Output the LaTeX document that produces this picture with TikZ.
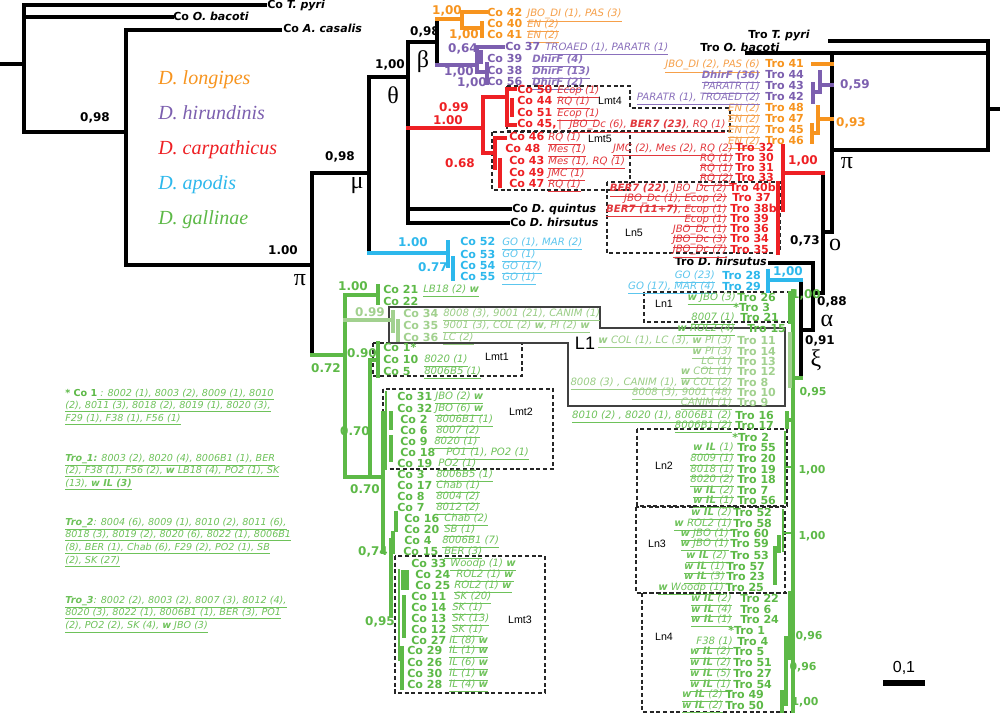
\documentclass[tikz,border=0pt]{standalone}
\usepackage{fontspec}
\usepackage{xcolor}
\newfontfamily\vfont{DejaVu Sans}
\newfontfamily\tfont{Liberation Serif}
\newfontfamily\afont{Liberation Sans}
% clade colours
\definecolor{lngcol}{HTML}{F7941E}
\definecolor{hircol}{HTML}{7C5FAF}
\definecolor{carcol}{HTML}{EE2024}
\definecolor{apocol}{HTML}{2DB8EC}
\definecolor{galcol}{HTML}{5DB947}
\definecolor{galtcol}{HTML}{A2D18F}
% colours of the haplotype notes
\definecolor{lnginf}{HTML}{F6A04A}
\definecolor{hirinf}{HTML}{8A70BC}
\definecolor{carinf}{HTML}{E2383D}
\definecolor{apoinf}{HTML}{5CC6EE}
\definecolor{galinf}{HTML}{6EC25A}
\definecolor{galtinf}{HTML}{9ACD86}
\newcommand{\undl}[1]{\underline{#1}}

\begin{document}
\begin{tikzpicture}[x=0.75pt,y=-0.75pt]
                % define styles
\tikzset{blk/.style={draw=black, line width=3pt, line cap=rect},
         lng/.style={blk, draw=lngcol},
         hir/.style={blk, draw=hircol},
         car/.style={blk, draw=carcol},
         apo/.style={blk, draw=apocol},
         gal/.style={blk, draw=galcol},
         galt/.style={blk, draw=galtcol},
         cotip/.style={anchor=base west, yshift=-3pt, inner sep=0pt,
                       font=\vfont\bfseries\fontsize{8.3}{9}\selectfont},
         coinf/.style={anchor=base west, yshift=-2.8pt, inner sep=0pt,
                       font=\vfont\itshape\fontsize{7.6}{9}\selectfont},
         trotip/.style={cotip},
         troinf/.style={coinf, anchor=base east},
         supp/.style={inner sep=0pt, font=\vfont\bfseries\fontsize{9}{9}\selectfont},
         supps/.style={inner sep=0pt, font=\vfont\bfseries\fontsize{8.2}{9}\selectfont},
         grk/.style={inner sep=0pt, font=\tfont\fontsize{18}{18}\selectfont},
         spec/.style={anchor=base west, yshift=-5pt, inner sep=0pt,
                      font=\tfont\itshape\fontsize{15}{15}\selectfont},
         grp/.style={draw=black!85, line width=0.9pt, dash pattern=on 3pt off 2pt},
         lgrp/.style={draw=black!75, line width=1.1pt},
         boxlab/.style={inner sep=0pt, font=\afont\fontsize{8}{9}\selectfont},
         leginf/.style={anchor=base west, yshift=-2.6pt, inner sep=0pt, text=galinf,
                        font=\vfont\itshape\fontsize{7.2}{9}\selectfont}
}

\fill[white] (0,0) rectangle (1000,713);
\useasboundingbox (0,0) rectangle (1000,713);

% group boxes
\draw[grp] (373,343) rectangle (522,376);
\draw[grp] (383,389) rectangle (553,469);
\draw[grp] (395,556) rectangle (545,693);
\draw[grp] (507,86) -- (630,86) -- (630,108) -- (730,108) -- (730,131) -- (507,131) -- cycle;
\draw[grp] (492,132) rectangle (630,190);
\draw[grp] (607,182) rectangle (780,253);
\draw[grp] (644,292) rectangle (794,322);
\draw[grp] (637,429) rectangle (787,506);
\draw[grp] (636,507) rectangle (785,593);
\draw[grp] (642,593) rectangle (792,712);
\draw[lgrp] (389,307) -- (600,307) -- (600,328) -- (785,328) -- (785,406)
            -- (568,406) -- (568,343) -- (389,343) -- cycle;

% box labels
\node[boxlab] (lmt1) at (497,357) {Lmt1};
\node[boxlab] (lmt2) at (521,412) {Lmt2};
\node[boxlab] (lmt3) at (520,620) {Lmt3};
\node[boxlab] (lmt4) at (610,101) {Lmt4};
\node[boxlab] (lmt5) at (600,139) {Lmt5};
\node[boxlab] (ln1) at (664,304) {Ln1};
\node[boxlab] (ln2) at (664,466) {Ln2};
\node[boxlab] (ln3) at (657,544) {Ln3};
\node[boxlab] (ln4) at (664,637) {Ln4};
\node[boxlab] (ln5) at (634,233) {Ln5};
\node[boxlab, font=\afont\fontsize{13.5}{14}\selectfont] (l1) at (585,343) {L1};

% ---------------- Co tree (left) ----------------
\draw[blk] (0,64) -- (24,64);
\draw[blk] (265,5) -| (24,132) -- (126,132);
\draw[blk] (24,17) -- (172,17);
\draw[blk] (280,30) -| (126,265) -- (312,265);
\draw[blk] (369,173) -| (312,355);
\draw[blk] (408,77) -| (369,253);
\draw[blk] (437,42) -| (408,223) -- (508,223);
\draw[blk] (408,209) -- (510,209);
\draw[blk] (437,19) -- (437,65);

\draw[lng] (437,19) -- (462,19);
\draw[lng] (486,12) -| (462,28) -- (482,28);
\draw[lng] (482,23) -- (482,36);

\draw[hir] (437,65) -- (477,65);
\draw[hir] (503,47) -| (477,72) -- (487,72);
\draw[hir] (487,64) -- (487,83);
\draw[hir] (481,52) -- (481,62);

\draw[car] (408,128) -- (483,128);
\draw[car] (507,97) -| (483,153) -- (495,153);
\draw[car] (515,89) -| (507,125) -- (515,125);
\draw[car] (512,100) -- (512,115);
\draw[car] (505,138) -| (495,168);
\draw[car] (500,160) -- (500,186);

\draw[apo] (369,253) -- (448,253);
\draw[apo] (448,242) -- (448,266);
\draw[apo] (453,258) -- (453,279);

\draw[gal] (312,355) -- (345,355);
\draw[gal] (378,295) -| (345,477) -- (383,477);
\draw[gal] (378,286) -- (378,303);
\draw[galt] (345,320) -- (393,320);
\draw[galt] (393,312) -- (393,331);
\draw[galt] (398,321) -- (398,340);
\draw[gal] (370,477) -- (370,360) -- (378,360);
\draw[gal] (378,343) -- (378,376);
\draw[gal] (383,413) -- (383,552);
\draw[gal, line width=2pt] (386,392) -- (386,469);
\draw[gal] (391,413) -- (391,428);
\draw[gal] (391,437) -- (391,460);
\draw[gal] (396,513) -- (396,530);
\draw[gal] (393,533) -- (393,552);
\draw[gal] (391,540) -- (391,615);
\draw[gal, line width=2pt] (399,570) -- (399,660);
\draw[gal] (403,572) -- (403,588);
\draw[gal] (407,572) -- (407,588);
\draw[gal] (404,597) -- (404,636);
\draw[gal] (402,648) -- (402,688);

% ---------------- Tro tree (right) ----------------
\draw[blk] (1000,109) -- (988,109);
\draw[blk] (830,41) -| (988,150) -- (832,150);
\draw[blk] (747,53) -- (988,53);
\draw[blk] (832,53) -- (832,232) -- (823,232);
\draw[blk] (823,173) -- (823,293) -- (813,293);
\draw[blk] (770,263) -| (813,330) -- (801,330);
\draw[blk] (801,280) -- (801,378);

\draw[lng] (813,64) -- (832,64);
\draw[hir] (832,85) -- (820,85);
\draw[hir] (820,72) -- (820,92) -- (813,92);
\draw[hir] (813,84) -- (813,102);
\draw[lng] (832,119) -- (818,119);
\draw[lng] (818,107) -- (818,133) -- (812,133);
\draw[lng] (812,125) -- (812,142);

\draw[car] (823,173) -- (783,173);
\draw[car] (783,146) -- (783,210);
\draw[car] (778,183) -- (778,253);

\draw[apo] (801,280) -- (768,280);
\draw[apo] (768,271) -- (768,291);

\draw[gal] (801,378) -- (793,378);
\draw[gal] (793,291) -- (793,712);
\draw[gal] (790,293) -- (790,322);
\draw[galt] (790,334) -- (790,386);
\draw[gal] (793,420) -- (787,420);
\draw[gal] (787,413) -- (787,427);
\draw[gal, line width=1.5pt] (793,467) -- (785,467);
\draw[gal, line width=1.5pt] (785,432) -- (785,503);
\draw[gal, line width=1.5pt] (793,533) -- (783,533);
\draw[gal, line width=1.5pt] (783,510) -- (783,551);
\draw[gal] (779,537) -- (779,551);
\draw[gal] (775,548) -- (775,583);
\draw[gal] (790,593) -- (790,658);
\draw[gal] (786,638) -- (786,704);
\draw[gal] (782,692) -- (782,712);

% scale bar
\node[inner sep=0pt, font=\afont\fontsize{12}{12}\selectfont] (scl) at (904,668) {0,1};
\draw[line width=4pt] (883,683) -- (925,683);

% species legend
\foreach \y/\c/\t [count=\i] in {78/lngcol/longipes, 113/hircol/hirundinis,
                                  148/carcol/carpathicus, 183/apocol/apodis,
                                  218/galcol/gallinae}
    \node[spec, text=\c] (sp\i) at (158,\y) {D. \t};

% greek node letters
\foreach \x/\y/\g [count=\i] in {300/280/π, 357/186/μ, 393/95/θ, 423/62/β,
                                 847/163/π, 835/245/ο, 827/321/α, 816/360/ξ}
    \node[grk] (gr\i) at (\x,\y) {\g};

% support values
\foreach \x/\y/\t [count=\i] in {95/118/{0,98}, 283/250/{1.00}, 340/157/{0,98},
                                 390/65/{1,00}, 425/32/{0,98}, 805/241/{0,73},
                                 832/302/{0,88}, 820/341/{0,91}}
    \node[supp] (sk\i) at (\x,\y) {\t};
\foreach \x/\y/\t [count=\i] in {447/11/{1,00}, 464/35/{1,00}, 851/123/{0,93}}
    \node[supp, text=lngcol] (so\i) at (\x,\y) {\t};
\foreach \x/\y/\t [count=\i] in {463/49/{0,64}, 459/72/{1,00}, 472/83/{1,00}, 855/85/{0,59}}
    \node[supp, text=hircol] (sh\i) at (\x,\y) {\t};
\foreach \x/\y/\t [count=\i] in {454/107/{0.99}, 448/120/{1.00}, 460/163/{0.68}, 803/161/{1,00}}
    \node[supp, text=carcol] (sc\i) at (\x,\y) {\t};
\foreach \x/\y/\t [count=\i] in {413/242/{1.00}, 433/267/{0.77}, 788/272/{1,00}}
    \node[supp, text=apocol] (sa\i) at (\x,\y) {\t};
\foreach \x/\y/\t [count=\i] in {353/286/{1.00}, 362/353/{0.90}, 326/368/{0.72},
                                 355/431/{0.70}, 365/489/{0.70}, 373/552/{0,74},
                                 380/622/{0,95}, 806/295/{1,00}}
    \node[supp, text=galcol] (sg\i) at (\x,\y) {\t};
\foreach \x/\y/\t [count=\i] in {813/392/{0,95}, 812/470/{1,00}, 812/536/{1,00},
                                 809/636/{0,96}, 803/667/{0,96}, 805/702/{1,00}}
    \node[supps, text=galcol] (sgr\i) at (\x,\y) {\t};
\node[supp, text=galtcol] (sgl) at (370,312) {0.99};

% ---------------- Co tips ----------------
\node[cotip] (copyri) at (267,5) {Co \textit{T. pyri}};
\node[cotip] (cobacoti) at (173,17) {Co \textit{O. bacoti}};
\node[cotip] (cocasalis) at (283,29) {Co \textit{A. casalis}};
\node[cotip] (coquintus) at (512,209) {Co \textit{D. quintus}};
\node[cotip] (cohirsutus) at (510,223) {Co \textit{D. hirsutus}};

\foreach \n/\y/\lab in {42/13/{JBO\_DI (1), PAS (3)}, 40/24/{EN (2)}, 41/35/{EN (2)}}{
    \node[cotip, text=lngcol] (co\n) at (487,\y) {Co \n};
    \node[coinf, text=lnginf] (coinf\n) at (527,\y) {\undl{\lab}};
}

\node[cotip, text=hircol] (co37) at (505,47) {Co 37};
\node[coinf, text=hirinf] (coinf37) at (545,47) {\undl{TROAED (1), PARATR (1)}};
\foreach \n/\y/\lab in {39/59/4, 38/71/13, 56/82/2}{
    \node[cotip, text=hircol] (co\n) at (487,\y) {Co \n};
    \node[coinf, text=hirinf] (coinf\n) at (532,\y) {\undl{\textbf{DhirF (\lab)}}};
}

\foreach \n/\x/\y/\lx/\lab in {50/517/90/557/{Ecop (1)}, 44/517/101/557/{RQ (1)},
                               51/517/113/557/{Ecop (1)}, 46/509/137/548/{RQ (1)},
                               48/505/149/548/{Mes (1)}, 43/509/161/548/{Mes (1), RQ (1)},
                               49/509/173/548/{JMC (1)}, 47/509/184/548/{RQ (1)}}{
    \node[cotip, text=carcol] (co\n) at (\x,\y) {Co \n};
    \node[coinf, text=carinf] (coinf\n) at (\lx,\y) {\undl{\lab}};
}
\node[cotip, text=carcol] (co45) at (517,124) {Co 45,};
\node[coinf, text=carinf] (coinf45) at (558,124)
    {|\hspace{6pt}\undl{JBO\_Dc (6), \textbf{BER7 (23)}, RQ (1)}};

\foreach \n/\y/\lab in {52/242/{GO (1), MAR (2)}, 53/254/{GO (1)},
                        54/266/{GO (17)}, 55/277/{GO (1)}}{
    \node[cotip, text=apocol] (co\n) at (460,\y) {Co \n};
    \node[coinf, text=apoinf] (coinf\n) at (502,\y) {\undl{\lab}};
}

\node[cotip, text=galcol] (co22) at (383,301) {Co 22};
\node[cotip, text=galcol] (co1) at (383,347) {Co 1*};
\foreach \n/\x/\y/\lx/\lab in {21/383/289/423/{LB18 (2) \textbf{w}},
        10/383/359/424/{8020 (1)}, 5/383/371/424/{8006B5 (1)},
        31/397/396/435/{JBO (2) \textbf{w}}, 32/397/408/435/{JBO (6) \textbf{w}},
        2/400/419/436/{8006B1 (1)}, 6/400/430/436/{8007 (2)},
        9/400/441/434/{8020 (1)}, 18/400/452/446/{PO1 (1), PO2 (1)},
        19/397/463/438/{PO2 (1)}, 3/397/474/436/{8006B5 (1)},
        17/397/485/436/{Chab (1)}, 8/397/496/436/{8004 (2)},
        7/397/507/436/{8012 (2)}, 16/404/518/444/{Chab (2)},
        20/404/529/444/{SB (1)}, 4/404/540/442/{8006B1 (7)},
        15/403/551/444/{BER (3)}, 33/411/563/450/{Woodp (1) \textbf{w}},
        24/415/574/456/{ROL2 (1) \textbf{w}}, 25/415/585/454/{ROL2 (1) \textbf{w}},
        11/411/596/454/{SK (20)}, 14/411/607/452/{SK (1)},
        13/411/618/452/{SK (13)}, 12/411/629/452/{SK (1)},
        27/411/640/449/{IL (8) \textbf{w}}, 29/407/650/449/{IL (1) \textbf{w}},
        26/407/662/449/{IL (6) \textbf{w}}, 30/407/673/449/{IL (1) \textbf{w}},
        28/407/684/449/{IL (4) \textbf{w}}}{
    \node[cotip, text=galcol] (co\n) at (\x,\y) {Co \n};
    \node[coinf, text=galinf] (coinf\n) at (\lx,\y) {\undl{\lab}};
}
\foreach \n/\y/\lab in {34/313/{8008 (3), 9001 (21), CANIM (1)},
                        35/325/{9001 (3), COL (2) \textbf{w}, PI (2) \textbf{w}},
                        36/337/{LC (2)}}{
    \node[cotip, text=galtcol] (co\n) at (403,\y) {Co \n};
    \node[coinf, text=galtinf] (coinf\n) at (443,\y) {\undl{\lab}};
}

% ---------------- Tro tips ----------------
\node[trotip] (tropyri) at (748,35) {Tro \textit{T. pyri}};
\node[trotip] (trobacoti) at (700,48) {Tro \textit{O. bacoti}};
\node[trotip, anchor=base east] (trohirsutus) at (767,262) {Tro \textit{D. hirsutus}};

\foreach \n/\y/\lab in {41/64/{JBO\_DI (2), PAS (6)}, 48/108/{EN (2)}, 47/119/{EN (2)},
                        45/130/{EN (2)}, 46/141/{EN (2)}}{
    \node[trotip, text=lngcol] (tro\n) at (765,\y) {Tro \n};
    \node[troinf, text=lnginf] (troinf\n) at (760,\y) {\undl{\lab}};
}
\foreach \n/\y/\lab in {44/75/{\textbf{DhirF (36)}}, 43/86/{PARATR (1)},
                        42/97/{PARATR (1), TROAED (2)}}{
    \node[trotip, text=hircol] (tro\n) at (765,\y) {Tro \n};
    \node[troinf, text=hirinf] (troinf\n) at (760,\y) {\undl{\lab}};
}
\foreach \n/\x/\y/\lx/\lab in {32/735/148/733/{JMC (2), Mes (2), RQ (2)},
        30/735/158/733/{RQ (1)}, 31/735/168/733/{RQ (1)}, 33/735/178/733/{RQ (2)},
        40b/729/188/727/{\textbf{BER7 (22)}, JBO\_Dc (2)},
        37/732/198/727/{JBO\_Dc (1), Ecop (2)},
        38b/730/209/727/{\textbf{BER7 (11+7)}, Ecop (1)},
        39/730/219/727/{Ecop (1)}, 36/730/229/727/{JBO\_Dc (1)},
        34/730/239/727/{JBO\_Dc (3)}, 35/730/249/727/{JBO\_Dc (7)}}{
    \node[trotip, text=carcol] (tro\n) at (\x,\y) {Tro \n};
    \node[troinf, text=carinf] (troinf\n) at (\lx,\y) {\undl{\lab}};
}
\foreach \n/\y/\lab in {28/275/{GO (23)}, 29/286/{GO (17), MAR (4)}}{
    \node[trotip, text=apocol] (tro\n) at (722,\y) {Tro \n};
    \node[troinf, text=apoinf] (troinf\n) at (715,\y) {\undl{\lab}};
}
\node[trotip, text=galcol] (tro3) at (733,307) {*Tro 3};
\node[trotip, text=galcol] (tro2) at (732,437) {*Tro 2};
\node[trotip, text=galcol] (tro1) at (728,630) {*Tro 1};
\foreach \n/\x/\y/\lx/\lab in {26/737/297/736/{\textbf{w} JBO (3)},
        21/740/317/735/{8007 (1)}, 15/747/328/735/{\textbf{w} ROL2 (4)},
        16/735/415/732/{8010 (2) , 8020 (1), 8006B1 (2)},
        17/735/425/732/{8006B1 (2)}, 55/737/447/734/{\textbf{w IL} (1)},
        20/737/458/734/{8009 (1)}, 19/737/469/734/{8018 (1)},
        18/737/479/734/{8020 (2)}, 7/737/490/734/{\textbf{w IL} (2)},
        56/737/500/734/{\textbf{w IL} (1)}, 52/733/512/732/{\textbf{w IL} (2)},
        58/733/523/732/{\textbf{w} ROL2 (1)}, 60/730/533/729/{\textbf{w} JBO (1)},
        59/730/543/729/{\textbf{w} JBO (1)}, 53/730/555/727/{\textbf{w IL} (2)},
        57/726/566/725/{\textbf{w IL} (1)}, 23/726/576/725/{\textbf{w IL} (3)},
        25/725/587/724/{\textbf{w} Woodp (1)}, 22/740/598/732/{\textbf{w IL} (2)},
        6/740/609/732/{\textbf{w IL} (4)}, 24/740/619/732/{\textbf{w IL} (1)},
        4/737/641/733/{F38 (1)}, 5/733/651/731/{\textbf{w IL} (2)},
        51/733/662/731/{\textbf{w IL} (2)}, 27/733/673/731/{\textbf{w IL} (5)},
        54/733/684/731/{\textbf{w IL} (1)}, 49/725/694/723/{\textbf{w IL} (2)},
        50/725/705/723/{\textbf{w IL} (2)}}{
    \node[trotip, text=galcol] (tro\n) at (\x,\y) {Tro \n};
    \node[troinf, text=galinf] (troinf\n) at (\lx,\y) {\undl{\lab}};
}
\foreach \n/\y/\lab in {11/340/{\textbf{w} COL (1), LC (3), \textbf{w} PI (3)},
        14/351/{\textbf{w} PI (3)}, 13/361/{LC (1)}, 12/371/{\textbf{w} COL (1)},
        8/382/{8008 (3) , CANIM (1), \textbf{w} COL (2)},
        10/392/{8008 (3), 9001 (48)}, 9/402/{CANIM (1)}}{
    \node[trotip, text=galtcol] (tro\n) at (737,\y) {Tro \n};
    \node[troinf, text=galtinf] (troinf\n) at (732,\y) {\undl{\lab}};
}

% haplotype notes (bottom left)
\foreach \y/\txt [count=\i] in {
    393/{\textup{\textbf{\color{galcol}* Co 1}}\undl{ : 8002 (1), 8003 (2), 8009 (1), 8010}},
    405/{\undl{(2), 8011 (3), 8018 (2), 8019 (1), 8020 (3),}},
    418/{\undl{F29 (1), F38 (1), F56 (1)}},
    458/{\undl{\textbf{Tro\_1:} 8003 (2), 8020 (4), 8006B1 (1), BER}},
    470/{\undl{(2), F38 (1), F56 (2), \textbf{w} LB18 (4), PO2 (1), SK}},
    483/{\undl{(13), \textbf{w IL (3)}}},
    522/{\undl{\textbf{Tro\_2}: 8004 (6), 8009 (1), 8010 (2), 8011 (6),}},
    534/{\undl{8018 (3), 8019 (2), 8020 (6), 8022 (1), 8006B1}},
    547/{\undl{(8), BER (1), Chab (6), F29 (2), PO2 (1), SB}},
    560/{\undl{(2), SK (27)}},
    600/{\undl{\textbf{Tro\_3}: 8002 (2), 8003 (2), 8007 (3), 8012 (4),}},
    612/{\undl{8020 (3), 8022 (1), 8006B1 (1), BER (3), PO1}},
    625/{\undl{(2), PO2 (2), SK (4), \textbf{w} JBO (3)}}}
    \node[leginf] (note\i) at (65,\y) {\txt};

\end{tikzpicture}
\end{document}
